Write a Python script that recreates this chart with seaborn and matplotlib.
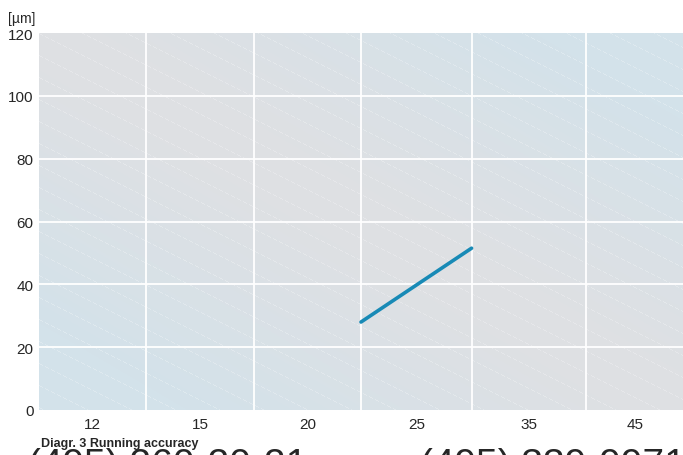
import numpy as np
import pandas as pd
import seaborn as sns
import matplotlib.pyplot as plt

# categories on the x axis (shaft diameter) and the measured line
categories = ["12", "15", "20", "25", "35", "45"]
col_edges = [0, 1.0, 2.0, 3.0, 4.03, 5.1, 6.0]   # column boundaries in axis units
line_pos = [3.0, 4.03]       # from the 20|25 boundary to the 25|35 boundary
line_um = [28, 51.5]
y_ticks = [0, 20, 40, 60, 80, 100, 120]

sns.set_style("white")
plt.rcParams["font.family"] = ["Liberation Sans", "DejaVu Sans"]

fig = plt.figure(figsize=(6.83, 4.56), dpi=100)
ax = fig.add_axes([39 / 683, 45 / 456, 644 / 683, 377 / 456])

# background: grey along the main diagonal, light blue to the corners, faint stripes
h, w = 377, 644
yy, xx = np.mgrid[0:h, 0:w]
t = np.clip(np.abs(xx / w - yy / h) * 1.3, 0, 1) ** 1.2
grey = np.array([223, 224, 227]) / 255
blue = np.array([211, 226, 234]) / 255
img = grey[None, None, :] * (1 - t[..., None]) + blue[None, None, :] * t[..., None]
phase = np.mod(yy - 0.5 * xx, 22.0)
dash = (np.mod(xx, 6) < 4).astype(float)
stripe = (phase < 1.0).astype(float) * dash * 0.25
img = img * (1 - stripe[..., None]) + stripe[..., None] * 1.0
ax.imshow(img, extent=[0, 6, 0, 120], aspect="auto", zorder=0, interpolation="bilinear")

# grid
for e in col_edges[1:-1]:
    ax.axvline(e, color="white", lw=1.3, zorder=1)
for v in y_ticks[1:-1]:
    ax.axhline(v, color="white", lw=1.3, zorder=1)

df = pd.DataFrame({"pos": line_pos, "um": line_um})
sns.lineplot(data=df, x="pos", y="um", ax=ax, color="#188ab6", lw=2.6, zorder=3)

centers = [(a + b) / 2 for a, b in zip(col_edges[:-1], col_edges[1:])]
ax.set_xticks(centers)
ax.set_xticklabels(categories, fontsize=11)
ax.set_yticks(y_ticks)
ax.set_yticklabels([str(v) for v in y_ticks], fontsize=11)
ax.tick_params(axis="x", length=0, pad=5)
ax.tick_params(axis="y", length=0, pad=4)
ax.set_xlim(0, 6)
ax.set_ylim(0, 120)
ax.set_xlabel("")
ax.set_ylabel("")
for s in ax.spines.values():
    s.set_visible(False)

fig.text(8 / 683, 1 - 19 / 456, "[µm]", fontsize=10, va="center", ha="left")
fig.text(41 / 683, 1 - 444 / 456, "Diagr. 3 Running accuracy", fontsize=9,
         fontweight="bold", va="center", ha="left")

# cropped watermark line at the very bottom
fig.text(28 / 683, -20 / 456, "(495) 260-20-21", fontsize=28, va="baseline", ha="left")
fig.text(420 / 683, -20 / 456, "(495) 339-9971", fontsize=28, va="baseline", ha="left")

fig.savefig("out.png", dpi=100)
